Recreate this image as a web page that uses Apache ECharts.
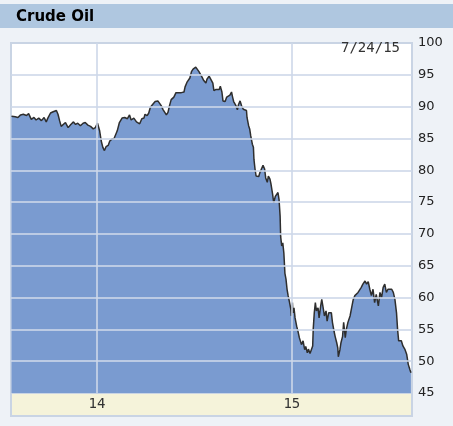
<!DOCTYPE html>
<html>
<head>
<meta charset="utf-8">
<script src="https://cdn.jsdelivr.net/npm/echarts@6/dist/echarts.min.js"></script>
<style>html,body{margin:0;padding:0;background:#eef2f7;}#c{width:453px;height:426px;}</style>
</head>
<body>
<div id="c"></div>
<script>
// days since 2014-01-01
var days = [-160,-157,-153,-148,-143,-138,-132,-128,-123,-118,-114,-109,-104,-99,-95,-92,-87,-82,-76,-73,-70,-67,-64,-59,-54,-49,-44,-40,-36,-31,-26,-22,-17,-12,-7,-3,1,
5,8,11,14,17,21,24,28,32,34,38,42,47,52,57,61,64,69,74,77,80,84,88,90,94,97,100,105,109,114,117,120,124,127,130,133,136,139,144,148,153,158,163,165,169,174,
177,180,185,188,191,194,197,200,204,206,210,213,217,219,223,225,229,231,234,236,240,243,246,249,252,254,256,260,263,265,268,271,274,277,280,281,284,286,288,291,293,294,296,298,300,303,305,308,311,314,316,319,321,324,326,329,331,334,336,339,341,343,344,346,348,350,352,
354,356,358,360,363,364,366,367,369,371,374,377,379,381,383,386,389,391,394,396,399,401,404,405,407,409,411,414,416,419,421,424,426,429,431,434,436,439,441,444,446,449,451,452,455,457,460,462,
465,467,470,474,477,480,483,486,489,492,495,498,502,505,508,511,514,517,520,523,527,530,533,536,539,542,545,548,552,555,558,561,563,565,568,570,573,577,580,583,586,588];
var prices = [88.5,88.8,88.4,88.3,88.7,88.8,88.6,88.9,88.0,88.3,87.9,88.2,87.8,88.3,87.6,88.2,89.0,89.2,89.4,88.8,87.8,86.9,87.2,87.5,86.7,87.2,87.6,87.2,87.4,87.0,87.4,87.5,87.1,86.9,86.5,86.7,87.4,
86.2,84.6,83.6,83.1,83.7,83.9,84.6,84.9,85.0,84.9,86.2,87.5,88.2,88.3,88.1,88.7,87.9,88.2,87.6,87.8,87.3,88.1,88.2,88.8,88.6,89.0,89.9,90.4,90.8,90.9,90.8,90.2,89.5,89.2,88.7,89.1,90.2,91.1,91.5,92.2,92.2,92.2,92.3,93.1,93.9,94.5,
95.5,95.9,96.2,96.1,95.5,95.7,94.6,94.1,93.7,94.3,94.8,94.5,93.7,92.5,92.7,92.9,92.7,93.2,92.3,90.9,90.8,91.5,91.2,91.8,92.3,91.5,90.8,90.2,89.5,90.3,90.9,90.1,89.6,89.5,89.4,88.3,87.0,86.5,85.4,84.1,83.6,81.7,80.2,79.1,79.4,79.0,79.6,80.2,80.8,80.2,78.8,78.1,79.1,78.6,77.8,76.2,74.9,75.9,75.7,76.5,75.4,72.8,69.6,68.1,68.6,67.0,63.8,
62.9,61.3,60.3,59.5,58.2,57.1,59.2,57.6,58.4,56.8,55.5,54.5,53.7,53.4,52.6,53.2,51.8,52.3,51.3,51.9,51.2,50.9,52.4,55.0,57.6,59.2,57.9,58.4,56.8,58.7,59.7,58.2,57.1,57.9,56.3,57.6,57.9,57.6,56.1,54.7,53.9,52.9,52.1,50.7,51.8,52.9,53.9,56.1,
53.7,55.0,56.1,57.1,58.4,59.7,60.3,60.5,60.8,61.1,61.6,62.1,62.6,62.1,62.5,61.3,60.3,61.3,59.2,60.5,58.7,60.8,60.0,61.6,62.1,60.8,61.3,61.1,61.3,60.8,59.7,57.6,55.0,53.2,53.4,53.2,52.4,51.8,51.1,49.5,48.7,48.2];

var xTickValues = [0, 365];
var xTickLabels = ['14', '15'];
var yGridValues = [50, 55, 60, 65, 70, 75, 80, 85, 90, 95];
var titleText = 'Crude Oil';
var dateText = '7/24/15';

var seriesData = days.map(function (d, i) { return [d, prices[i]]; });
var gridLineColor = 'rgba(205,215,232,0.8)';
var markData = yGridValues.map(function (v) { return { yAxis: v }; })
  .concat(xTickValues.map(function (v) { return { xAxis: v }; }));

var chart = echarts.init(document.getElementById('c'), null, { renderer: 'canvas' });
chart.setOption({
  animation: false,
  backgroundColor: '#eef2f7',
  grid: {
    left: 11, right: 41, top: 43, bottom: 33,
    show: true, backgroundColor: '#ffffff', borderColor: '#c9d4e4', borderWidth: 2
  },
  graphic: [
    { type: 'rect', z: -10, shape: { x: 0, y: 4, width: 453, height: 24 }, style: { fill: '#afc7e0' } },
    { type: 'text', z: 10, x: 16, y: 17, style: { text: titleText, font: 'bold 15px "DejaVu Sans"', fill: '#000', textVerticalAlign: 'middle' } },
    { type: 'rect', z: -10, shape: { x: 11, y: 393, width: 401, height: 23 }, style: { fill: '#f5f3da', stroke: '#c9d4e4', lineWidth: 2 } },
    { type: 'text', z: 10, x: 400, y: 48, style: { text: dateText, font: '14px "DejaVu Sans Mono"', fill: '#333', textAlign: 'right', textVerticalAlign: 'middle' } }
  ],
  xAxis: {
    type: 'value', min: -161, max: 590,
    axisLine: { show: false }, axisTick: { show: false }, splitLine: { show: false },
    axisLabel: {
      customValues: xTickValues,
      margin: 4,
      fontFamily: 'DejaVu Sans Mono', fontSize: 14, color: '#333',
      formatter: function (v) { var i = xTickValues.indexOf(v); return i >= 0 ? xTickLabels[i] : ''; }
    }
  },
  yAxis: {
    type: 'value', min: 45, max: 100, interval: 5, position: 'right',
    axisLine: { show: false }, axisTick: { show: false }, splitLine: { show: false },
    axisLabel: { margin: 6, fontFamily: 'DejaVu Sans', fontSize: 13, color: '#222' }
  },
  series: [{
    type: 'line',
    data: seriesData,
    showSymbol: false,
    symbol: 'none',
    lineStyle: { color: '#2e2e2e', width: 1.5 },
    areaStyle: { color: '#7a9bd0', opacity: 1 },
    markLine: {
      silent: true,
      symbol: ['none', 'none'],
      label: { show: false },
      lineStyle: { color: gridLineColor, width: 2, type: 'solid' },
      data: markData
    }
  }]
});
</script>
</body>
</html>
